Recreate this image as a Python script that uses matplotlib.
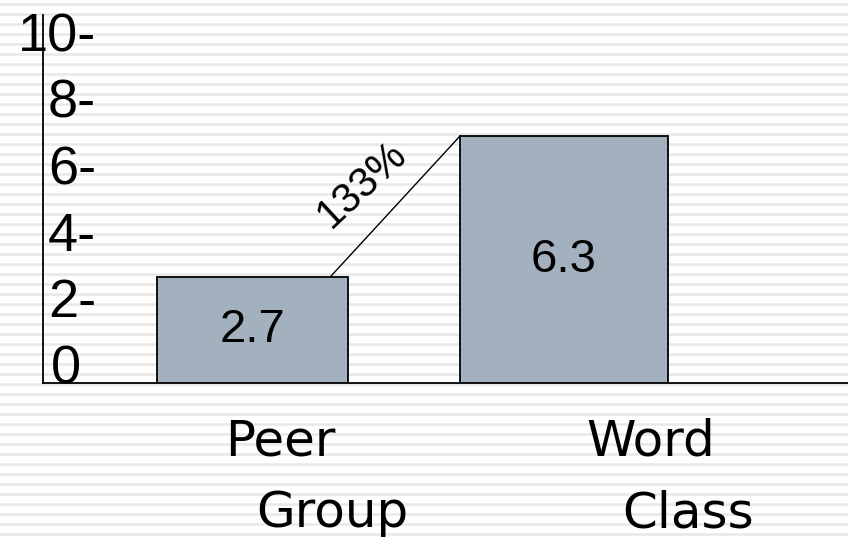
import matplotlib.pyplot as plt

# data
categories_top = ["Peer", "Word"]
categories_bottom = ["Group", "Class"]
values = [2.7, 6.3]
ytick_values = [0, 2, 4, 6, 8, 10]
ytick_labels = ["0 ", "2-", "4-", "6-", "8-", "10-"]

W, H = 848, 538
fig = plt.figure(figsize=(W / 100, H / 100), dpi=100)

# striped slide background
bg = fig.add_axes([0, 0, 1, 1])
bg.set_xlim(0, W)
bg.set_ylim(H, 0)
bg.axis("off")
for y in range(4, H, 10):
    bg.axhline(y, color="#e8e8e8", lw=1.8)

# plot area (pixel layout of the slide)
left, base, top = 43, 383, 15
rect = [left / W, (H - base) / H, 1 - left / W, (base - top) / H]
px_per_unit = 39.2
pitch = 311.5          # pixels between bar centres
widths = [191 / pitch, 208 / pitch]

ax = fig.add_axes(rect)
ax.patch.set_alpha(0)
ax.set_ylim(0, (base - top) / px_per_unit)
ax.set_xlim(-(252.5 - left) / pitch, 1 + (W - 564) / pitch)
for s in ["top", "right"]:
    ax.spines[s].set_visible(False)
for s in ["left", "bottom"]:
    ax.spines[s].set_linewidth(1.3)
ax.set_xticks([])
ax.set_yticks([])

xs = list(range(len(values)))
ax.bar(xs, values, width=widths, color="#a3b1bf", edgecolor="black", lw=1.3, zorder=3)

for x, v in zip(xs, values):
    ax.text(x, v / 2, f"{v}", ha="center", va="center", fontsize=34,
            family=["Liberation Sans", "DejaVu Sans"], zorder=4)

# growth connector between the bars
x1 = xs[0] + 77.5 / pitch
x2 = xs[1] - widths[1] / 2
ax.plot([x1, x2], values, color="black", lw=1.0, zorder=2, clip_on=False)
pct = (values[1] - values[0]) / values[0] * 100
ax.annotate(f"{pct:.0f}%", xy=((x1 + x2) / 2, sum(values) / 2), xycoords="data",
            xytext=(-33, 22), textcoords="offset pixels", rotation=43,
            rotation_mode="anchor", ha="center", va="center", fontsize=30,
            family=["Liberation Sans", "DejaVu Sans"])

# category labels, two staggered lines each
off_top = [(28, -72), (87, -72)]
off_bot = [(80, -144), (124, -144)]
for x, t, b, o1, o2 in zip(xs, categories_top, categories_bottom, off_top, off_bot):
    ax.annotate(t, xy=(x, 0), xycoords="data", xytext=o1, textcoords="offset pixels",
                ha="center", va="baseline", fontsize=36, family="DejaVu Sans",
                annotation_clip=False)
    ax.annotate(b, xy=(x, 0), xycoords="data", xytext=o2, textcoords="offset pixels",
                ha="center", va="baseline", fontsize=36, family="DejaVu Sans",
                annotation_clip=False)

# y labels are drawn on their own (shifted) scale as on the slide
lab = fig.add_axes(rect)
lab.patch.set_alpha(0)
lab.set_ylim((364 - base) / 33.2, (364 - top) / 33.2)
lab.set_xticks([])
lab.set_yticks(ytick_values, ytick_labels)
lab.tick_params(axis="y", length=0, pad=-(96 - left) * 0.72, labelsize=39)
for t in lab.get_yticklabels():
    t.set_family(["Liberation Sans", "DejaVu Sans"])
for s in lab.spines.values():
    s.set_visible(False)

fig.savefig("out.png", dpi=100)
